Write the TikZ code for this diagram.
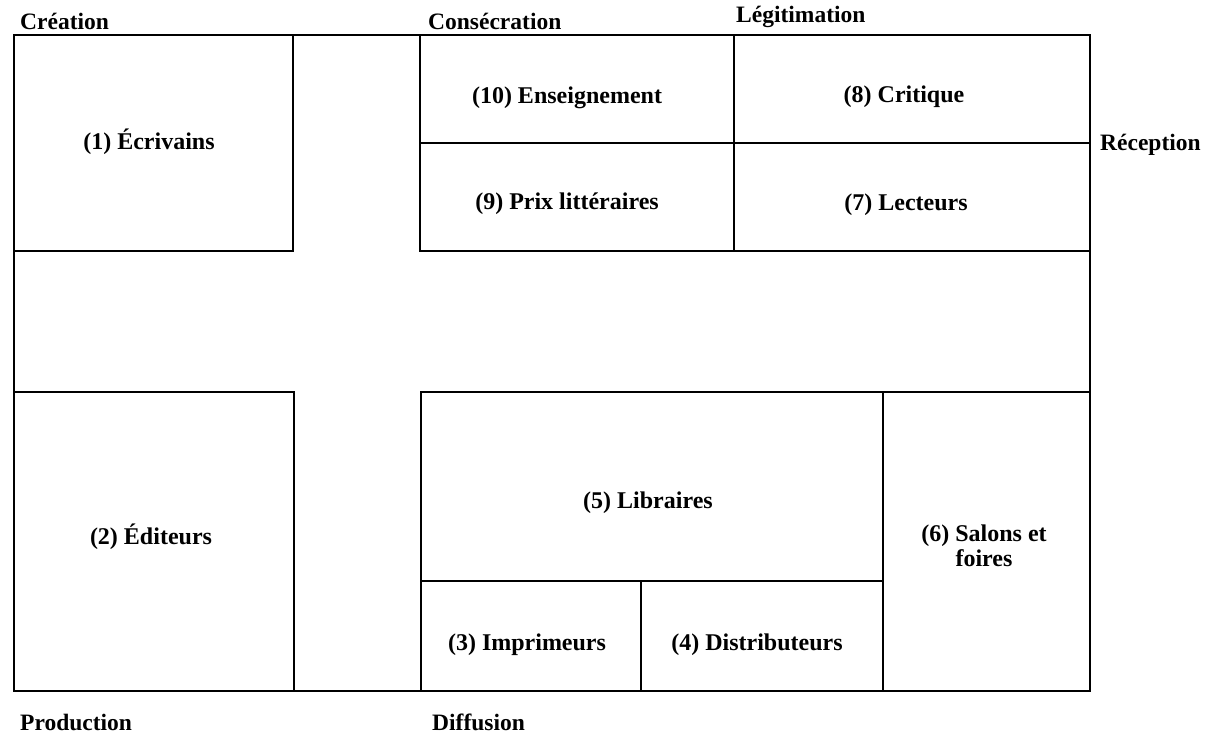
\documentclass[tikz,border=0pt]{standalone}
\usepackage{fontspec}
\setmainfont{Liberation Serif}
\begin{document}
\begin{tikzpicture}[x=1pt,y=-1pt,
  cell/.style={draw, line width=2pt, inner sep=0pt},
  txt/.style={font=\bfseries\fontsize{24}{25}\selectfont, inner sep=0pt, align=center},
  head/.style={font=\bfseries\fontsize{23.5}{26}\selectfont, anchor=west, inner sep=0pt}]
\useasboundingbox (0,0) rectangle (1215,755);

\node[cell, minimum width=1076pt, minimum height=656pt] (cadre) at (552,363) {};

\node[cell, minimum width=279pt, minimum height=216pt] (ecrivains) at (153.5,143) {};
\node[cell, minimum width=314pt, minimum height=108pt] (enseignement) at (577,89) {};
\node[cell, minimum width=314pt, minimum height=108pt] (prix) at (577,197) {};
\node[cell, minimum width=356pt, minimum height=108pt] (critique) at (912,89) {};
\node[cell, minimum width=356pt, minimum height=108pt] (lecteurs) at (912,197) {};

\node[cell, minimum width=280pt, minimum height=299pt] (editeurs) at (154,541.5) {};
\node[cell, minimum width=462pt, minimum height=189pt] (libraires) at (652,486.5) {};
\node[cell, minimum width=220pt, minimum height=110pt] (imprimeurs) at (531,636) {};
\node[cell, minimum width=242pt, minimum height=110pt] (distributeurs) at (762,636) {};
\node[cell, minimum width=207pt, minimum height=299pt] (salons) at (986.5,541.5) {};

\node[txt] (t-ecrivains) at (149,142) {(1) Écrivains};
\node[txt] (t-enseignement) at (567,98) {(10) Enseignement};
\node[txt] (t-prix) at (567,204) {(9) Prix littéraires};
\node[txt] (t-critique) at (904,97) {(8) Critique};
\node[txt] (t-lecteurs) at (906,205) {(7) Lecteurs};
\node[txt] (t-editeurs) at (151,537) {(2) Éditeurs};
\node[txt] (t-libraires) at (648,503) {(5) Libraires};
\node[txt] (t-imprimeurs) at (527,645) {(3) Imprimeurs};
\node[txt] (t-distributeurs) at (757,645) {(4) Distributeurs};
\node[txt] (t-salons) at (984,546) {(6) Salons et\\foires};

\node[head] (creation) at (20,21) {Création};
\node[head] (consecration) at (428,21) {Consécration};
\node[head] (legitimation) at (736,17) {Légitimation};
\node[head] (reception) at (1100,145) {Réception};
\node[head] (production) at (20,722) {Production};
\node[head] (diffusion) at (432,722) {Diffusion};
\end{tikzpicture}
\end{document}
